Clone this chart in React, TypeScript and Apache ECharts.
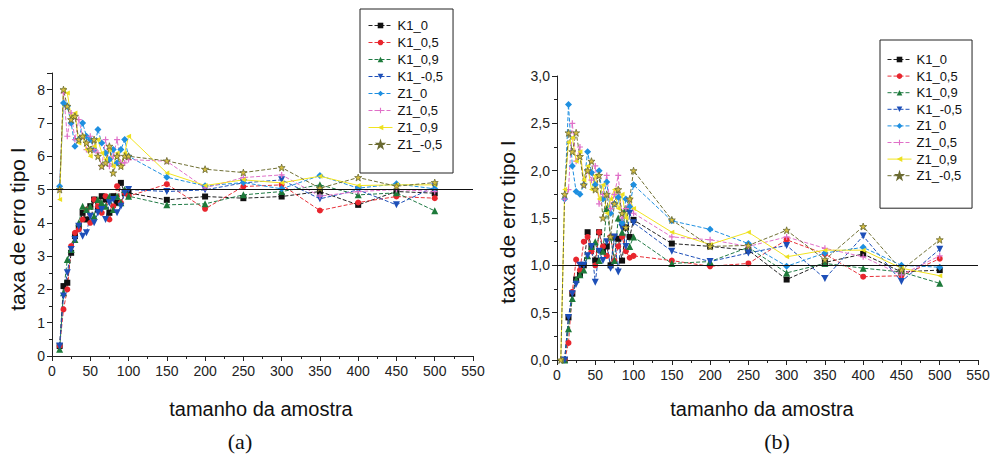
import React, { useEffect, useRef } from "react";
import * as echarts from "echarts";

// sample sizes (x)
const xs = [5, 10, 15, 20, 25, 30, 35, 40, 45, 50, 55, 60, 65, 70, 75, 80, 85, 90, 95, 100, 150, 200, 250, 300, 350, 400, 450, 500];

const seriesNames = ["K1_0", "K1_0,5", "K1_0,9", "K1_-0,5", "Z1_0", "Z1_0,5", "Z1_0,9", "Z1_-0,5"];

// panel (a)
const aK1_0 = [null, 0.3, 2.1, 2.2, 3.1, 3.6, 3.9, 4.3, 4.1, 4.5, 4.7, 4.4, 4.8, 4.7, 4.3, 4.8, 4.6, 5.2, 4.9, 4.9, 4.69, 4.79, 4.74, 4.79, 4.94, 4.54, 4.94, 4.89];
const aK1_05 = [null, 0.3, 1.4, 2.0, 3.3, 3.7, 3.8, 4.1, 4.4, 4.0, 4.7, 4.5, 4.3, 4.8, 4.1, 4.5, 5.1, 4.6, 4.9, 4.8, 5.16, 4.42, 5.09, 5.14, 4.37, 4.61, 4.79, 4.74];
const aK1_09 = [null, 0.2, 1.9, 2.9, 3.2, 3.5, 4.0, 4.5, 4.4, 4.5, 4.2, 4.7, 4.6, 4.5, 4.8, 4.4, 4.8, 4.6, 5.0, 4.8, 4.54, 4.57, 4.84, 4.94, 5.14, 4.84, 4.9, 4.36];
const aK1_m05 = [null, 0.3, 1.8, 2.5, 3.2, 3.5, 3.9, 3.6, 3.7, 4.2, 4.0, 4.3, 4.4, 4.1, 4.6, 4.7, 4.3, 4.5, 4.9, 5.0, 4.94, 4.99, 5.2, 5.29, 4.72, 4.99, 4.54, 5.08];
const aZ1_0 = [null, 5.1, 7.6, 7.5, 7.0, 6.3, 6.5, 7.0, 6.6, 6.5, 6.2, 6.8, 6.4, 6.1, 5.9, 6.2, 5.8, 6.2, 6.5, 6.0, 5.37, 5.11, 5.21, 5.02, 5.42, 5.04, 5.17, 5.02];
const aZ1_05 = [null, 5.0, 7.9, 6.6, 7.3, 6.5, 7.1, 6.6, 6.2, 6.6, 6.2, 6.1, 5.7, 6.5, 5.7, 6.0, 6.5, 5.8, 5.8, 5.9, 5.85, 5.05, 5.36, 5.44, 4.8, 4.94, 5.0, 4.94];
const aZ1_09 = [null, 4.7, 8.0, 7.9, 7.2, 7.3, 6.4, 6.6, 6.2, 6.0, 6.3, 6.5, 6.1, 5.9, 6.2, 5.7, 6.1, 5.7, 6.1, 6.6, 5.5, 5.12, 5.29, 5.2, 5.4, 5.12, 5.14, 5.14];
const aZ1_m05 = [null, 5.0, 8.0, 7.5, 7.1, 7.2, 6.5, 6.6, 6.4, 6.2, 6.5, 6.0, 5.7, 5.8, 6.3, 5.5, 6.0, 5.7, 6.0, 6.0, 5.86, 5.61, 5.51, 5.66, 5.04, 5.36, 5.1, 5.21];

// panel (b)
const bK1_0 = [null, 0.0, 0.45, 0.7, 0.85, 0.9, 1.0, 1.35, 1.2, 1.05, 1.35, 1.15, 1.2, 1.0, 1.3, 1.28, 1.05, 1.4, 1.3, 1.48, 1.23, 1.2, 1.16, 0.85, 1.03, 1.12, 0.93, 0.95];
const bK1_05 = [null, 0.0, 0.18, 0.72, 1.06, 0.95, 1.25, 1.3, 1.15, 1.0, 1.35, 1.2, 1.1, 1.3, 1.05, 1.2, 1.3, 1.15, 1.08, 1.1, 1.05, 0.99, 1.02, 1.27, 1.12, 0.88, 0.89, 1.07];
const bK1_09 = [null, 0.0, 0.33, 0.65, 0.85, 0.9, 0.95, 1.1, 1.2, 1.25, 1.05, 1.15, 1.6, 1.3, 1.05, 1.5, 1.35, 1.6, 1.2, 1.3, 1.02, 1.04, 1.19, 0.92, 1.02, 0.97, 0.93, 0.81];
const bK1_m05 = [null, 0.0, 0.45, 0.7, 0.8, 1.0, 1.0, 1.1, 1.2, 0.82, 1.15, 1.05, 1.25, 0.97, 1.3, 0.93, 1.4, 1.2, 1.55, 1.45, 1.15, 1.04, 1.13, 1.21, 0.86, 1.31, 0.83, 1.17];
const bZ1_0 = [null, 1.7, 2.7, 2.05, 1.78, 1.75, 1.85, 2.2, 1.98, 1.85, 2.0, 1.7, 1.88, 1.55, 1.65, 1.72, 1.45, 1.7, 1.62, 1.85, 1.47, 1.38, 1.23, 0.99, 1.13, 1.19, 1.0, 0.98];
const bZ1_05 = [null, 1.7, 1.8, 2.5, 2.1, 2.25, 1.85, 2.0, 1.9, 2.05, 1.65, 1.75, 1.95, 1.6, 1.75, 1.95, 1.5, 1.6, 1.7, 1.55, 1.3, 1.27, 1.2, 1.3, 1.18, 1.09, 0.9, 1.1];
const bZ1_09 = [0.0, 1.8, 2.3, 2.35, 2.1, 2.2, 1.9, 2.05, 1.8, 1.95, 1.7, 1.85, 1.55, 1.7, 1.8, 1.6, 1.75, 1.5, 1.7, 1.6, 1.35, 1.22, 1.35, 1.09, 1.16, 1.16, 0.97, 0.89];
const bZ1_m05 = [0.0, 1.75, 2.4, 2.2, 2.4, 2.15, 1.85, 2.0, 2.1, 1.8, 1.95, 1.5, 1.75, 1.3, 1.65, 1.8, 1.55, 1.4, 1.7, 2.0, 1.48, 1.2, 1.21, 1.37, 1.06, 1.41, 0.95, 1.27];

const panelA = [aK1_0, aK1_05, aK1_09, aK1_m05, aZ1_0, aZ1_05, aZ1_09, aZ1_m05];
const panelB = [bK1_0, bK1_05, bK1_09, bK1_m05, bZ1_0, bZ1_05, bZ1_09, bZ1_m05];

const FONT = "'Liberation Sans', Arial, sans-serif";

const looks = [
  { line: "#222222", fill: "#111111", border: "#111111", symbol: "rect", size: 6, dash: [4, 2] },
  { line: "#e8323a", fill: "#e8262e", border: "#e8262e", symbol: "circle", size: 6, dash: [4, 2] },
  { line: "#1f7a44", fill: "#1d7a3a", border: "#1d7a3a", symbol: "triangle", size: 7, dash: [4, 2] },
  { line: "#1d4fb8", fill: "#1d4fb8", border: "#1d4fb8", symbol: "path://M0,0 L10,0 L5,9 Z", size: 7, dash: [4, 2] },
  { line: "#1e8fe0", fill: "#1e8fe0", border: "#1e8fe0", symbol: "diamond", size: 7, dash: [4, 2] },
  { line: "#e070c8", fill: "#e070c8", border: "#e070c8", symbol: "path://M4,0H6V4H10V6H6V10H4V6H0V4H4Z", size: 6, dash: [4, 2] },
  { line: "#f2e420", fill: "#ece020", border: "#ece020", symbol: "path://M0,5 L10,0 L10,10 Z", size: 5, dash: "solid" },
  { line: "#707035", fill: "#d8c040", border: "#6a6a30", symbol: "path://M5,0 L6.2,3.5 L10,3.5 L7,5.8 L8.1,9.5 L5,7.2 L1.9,9.5 L3,5.8 L0,3.5 L3.8,3.5 Z", size: 7, dash: [4, 2] },
];

function buildSeries(panel: (number | null)[][], g: number, refValue: number) {
  return panel.map((vals, i) => {
    const lk = looks[i];
    const s: any = {
      type: "line",
      name: seriesNames[i],
      xAxisIndex: g,
      yAxisIndex: g,
      symbol: lk.symbol,
      symbolSize: lk.size,
      itemStyle: { color: lk.fill, borderColor: lk.border, borderWidth: i === 7 ? 0.8 : 0 },
      lineStyle: { color: lk.line, width: 1, type: lk.dash },
      data: xs.map((x, k) => [x, vals[k]]).filter((d) => d[1] !== null),
      z: 3,
    };
    if (i === 0) {
      s.markLine = {
        silent: true,
        symbol: "none",
        label: { show: false },
        lineStyle: { color: "#111", width: 1.2, type: "solid" },
        data: [{ yAxis: refValue }],
      };
    }
    return s;
  });
}

function xAxisCfg(g: number) {
  return {
    gridIndex: g,
    type: "value",
    min: 0,
    max: 550,
    interval: 50,
    axisLine: { show: true, onZero: false, lineStyle: { color: "#222", width: 1 } },
    axisTick: { show: true, length: 5, lineStyle: { color: "#222" } },
    minorTick: { show: true, splitNumber: 2, length: 3, lineStyle: { color: "#222" } },
    splitLine: { show: false },
    axisLabel: { fontSize: 14, color: "#222", margin: 8, fontFamily: FONT },
  };
}

function yAxisCfg(g: number, max: number, interval: number, fmt: (v: number) => string) {
  return {
    gridIndex: g,
    type: "value",
    min: 0,
    max,
    interval,
    axisLine: { show: true, onZero: false, lineStyle: { color: "#222", width: 1 } },
    axisTick: { show: true, length: 5, lineStyle: { color: "#222" } },
    minorTick: { show: true, splitNumber: 2, length: 3, lineStyle: { color: "#222" } },
    splitLine: { show: false },
    axisLabel: { fontSize: 14, color: "#222", margin: 7, fontFamily: FONT, formatter: fmt },
  };
}

export default function App() {
  const ref = useRef<HTMLDivElement>(null);
  useEffect(() => {
    if (!ref.current) return;
    const chart = echarts.init(ref.current, null, { renderer: "svg" });
    const legendBase = {
      orient: "vertical",
      itemWidth: 24,
      itemHeight: 7,
      borderColor: "#222",
      borderWidth: 1,
      lineStyle: { width: 1 },
      textStyle: { fontSize: 13, color: "#111", fontFamily: FONT },
      data: seriesNames,
    };
    chart.setOption({
      animation: false,
      backgroundColor: "#ffffff",
      grid: [
        { left: 52, top: 73, width: 421, height: 283 },
        { left: 557, top: 76, width: 421, height: 284 },
      ],
      xAxis: [xAxisCfg(0), xAxisCfg(1)],
      yAxis: [
        yAxisCfg(0, 8.5, 1, (v: number) => (Math.abs(v - Math.round(v)) < 1e-9 ? String(Math.round(v)) : "")),
        yAxisCfg(1, 3, 0.5, (v: number) => v.toFixed(1).replace(".", ",")),
      ],
      legend: [
        { ...legendBase, left: 360, top: 9, itemGap: 4, padding: [10, 10, 22, 8] },
        { ...legendBase, left: 880, top: 40, itemGap: 3.6, padding: [13, 10, 26, 7] },
      ],
      graphic: [
        { type: "text", x: 17, y: 229, rotation: Math.PI / 2, style: { text: "taxa de erro tipo I", fontSize: 21, fontFamily: FONT, fill: "#111", textAlign: "center", textVerticalAlign: "middle" } },
        { type: "text", x: 507, y: 222, rotation: Math.PI / 2, style: { text: "taxa de erro tipo I", fontSize: 21, fontFamily: FONT, fill: "#111", textAlign: "center", textVerticalAlign: "middle" } },
        { type: "text", x: 261, y: 409, style: { text: "tamanho da amostra", fontSize: 20, fontFamily: FONT, fill: "#111", textAlign: "center", textVerticalAlign: "middle" } },
        { type: "text", x: 762, y: 409, style: { text: "tamanho da amostra", fontSize: 20, fontFamily: FONT, fill: "#111", textAlign: "center", textVerticalAlign: "middle" } },
        { type: "text", x: 240, y: 441, style: { text: "(a)", fontSize: 22, fontFamily: "'Liberation Serif', 'Times New Roman', serif", fill: "#111", textAlign: "center", textVerticalAlign: "middle" } },
        { type: "text", x: 777, y: 441, style: { text: "(b)", fontSize: 22, fontFamily: "'Liberation Serif', 'Times New Roman', serif", fill: "#111", textAlign: "center", textVerticalAlign: "middle" } },
      ],
      series: [...buildSeries(panelA, 0, 5), ...buildSeries(panelB, 1, 1)],
    });
    return () => chart.dispose();
  }, []);
  return <div ref={ref} style={{ position: "absolute", left: 0, top: 0, width: 995, height: 461 }} />;
}
